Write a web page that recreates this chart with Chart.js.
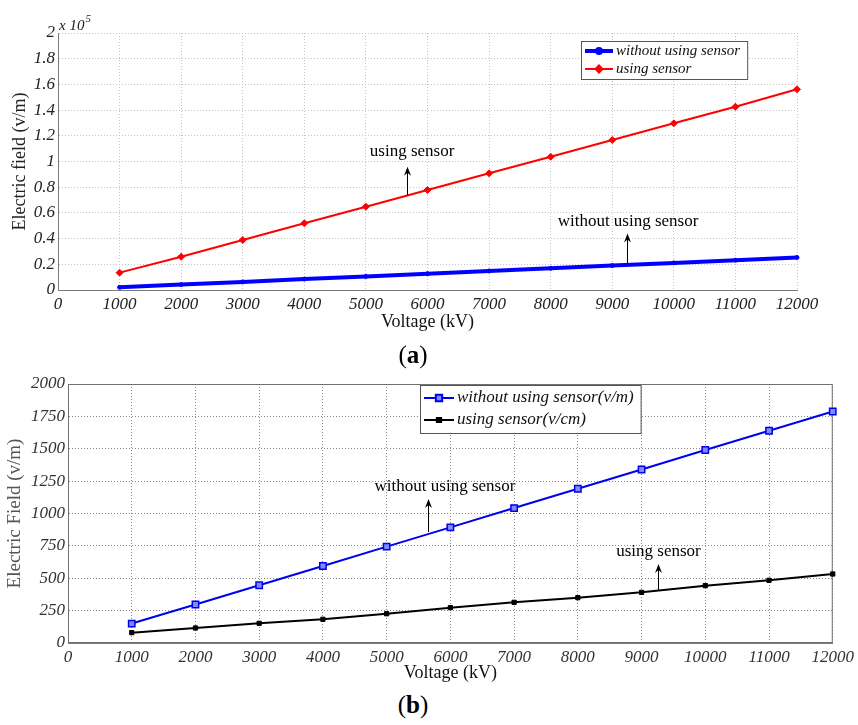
<!DOCTYPE html>
<html>
<head>
<meta charset="utf-8">
<script src="https://cdn.jsdelivr.net/npm/chart.js@4/dist/chart.umd.min.js"></script>
<style>
  html, body { margin: 0; padding: 0; background: #fff; }
  body { width: 858px; height: 725px; position: relative; overflow: hidden; }
  .caja { position: absolute; left: 0; width: 858px; }
  .pie { position: absolute; left: 0; width: 826px; text-align: center;
         font-family: "Liberation Serif", serif; font-size: 25px; line-height: 30px; color: #000; }
</style>
</head>
<body>
<div class="caja" style="top:0;height:340px"><canvas id="grafico-a"></canvas></div>
<div class="caja" style="top:340px;height:350px"><canvas id="grafico-b"></canvas></div>
<div class="pie" style="top:340px">(<b>a</b>)</div>
<div class="pie" style="top:690px">(<b>b</b>)</div>
<script>
// tensiones (kV), comunes a las dos figuras
const voltaje = [1000, 2000, 3000, 4000, 5000, 6000, 7000, 8000, 9000, 10000, 11000, 12000];

// figura (a): campo electrico en v/m (eje en x 10^5)
const sinSensorA = [2100, 4200, 6300, 8500, 10600, 12700, 14800, 16900, 19000, 21100, 23200, 25300];
const conSensorA = [13500, 25900, 38900, 51900, 64800, 77800, 90800, 103700, 116700, 129700, 142600, 156200];

// figura (b)
const sinSensorB = [150, 297, 446, 595, 744, 893, 1042, 1191, 1340, 1490, 1639, 1788];   // v/m
const conSensorB = [80, 116, 152, 183, 226, 273, 314, 350, 391, 443, 484, 533];          // v/cm

const SERIF = '"Liberation Serif", "Times New Roman", serif';
Chart.defaults.font.family = SERIF;
Chart.defaults.color = '#222';

const puntos = (xs, ys) => xs.map((x, i) => ({ x: x, y: ys[i] }));

// leyenda dentro del area, flechas con texto, marco y exponente
const extras = {
    id: 'extras',
    beforeDatasetsDraw(chart, args, opts) {
        if (!opts.marco) return;
        const a = chart.chartArea, ctx = chart.ctx;
        ctx.save();
        ctx.strokeStyle = '#707070';
        ctx.lineWidth = 1;
        ctx.strokeRect(a.left + 0.5, a.top + 0.5, a.right - a.left - 1, a.bottom - a.top - 1);
        ctx.restore();
    },
    afterDatasetsDraw(chart, args, opts) {
        const ctx = chart.ctx, a = chart.chartArea;
        const sx = chart.scales.x, sy = chart.scales.y;
        ctx.save();

        // flechas
        (opts.notas || []).forEach(n => {
            const px = Math.round(sx.getPixelForValue(n.x)) + 0.5;
            const y0 = sy.getPixelForValue(n.desde), y1 = sy.getPixelForValue(n.hasta);
            ctx.strokeStyle = '#000';
            ctx.fillStyle = '#000';
            ctx.lineWidth = 1;
            ctx.beginPath();
            ctx.moveTo(px, y0);
            ctx.lineTo(px, y1 + 4);
            ctx.stroke();
            ctx.beginPath();
            ctx.moveTo(px, y1);
            ctx.lineTo(px - 3.5, y1 + 9);
            ctx.lineTo(px, y1 + 6);
            ctx.lineTo(px + 3.5, y1 + 9);
            ctx.closePath();
            ctx.fill();
            ctx.font = opts.fuenteNota;
            ctx.textAlign = 'center';
            ctx.textBaseline = 'middle';
            ctx.fillText(n.texto, sx.getPixelForValue(n.tx), sy.getPixelForValue(n.ty));
        });

        // exponente del eje y
        if (opts.exponente) {
            ctx.fillStyle = '#222';
            ctx.textAlign = 'left';
            ctx.textBaseline = 'alphabetic';
            ctx.font = 'italic 15px ' + SERIF;
            ctx.fillText('x 10', a.left + 1, a.top - 3);
            const w = ctx.measureText('x 10').width;
            ctx.font = 'italic 11px ' + SERIF;
            ctx.fillText(opts.exponente, a.left + 2 + w, a.top - 11);
        }

        // leyenda
        const L = opts.leyenda;
        if (L) {
            ctx.font = L.fuente;
            const sets = chart.data.datasets;
            const anchoTexto = Math.max(...sets.map(d => ctx.measureText(d.label).width));
            const x0 = a.left + L.dx, y0 = a.top + L.dy;
            const w = L.inicioTexto + anchoTexto + 7;
            const h = L.fila * sets.length + 2 * L.margen;
            ctx.fillStyle = '#fff';
            ctx.fillRect(x0, y0, w, h);
            ctx.strokeStyle = '#555';
            ctx.lineWidth = 1;
            ctx.strokeRect(x0 + 0.5, y0 + 0.5, w, h);
            sets.forEach((d, i) => {
                const yc = y0 + L.margen + L.fila * (i + 0.5);
                ctx.strokeStyle = d.borderColor;
                ctx.lineWidth = d.borderWidth;
                ctx.beginPath();
                ctx.moveTo(x0 + 4, yc);
                ctx.lineTo(x0 + L.inicioTexto - 3, yc);
                ctx.stroke();
                ctx.fillStyle = d.pointBackgroundColor;
                ctx.strokeStyle = d.borderColor;
                Chart.helpers.drawPoint(ctx, {
                    pointStyle: d.pointStyle, radius: d.pointRadius, rotation: 0,
                    borderWidth: d.pointBorderWidth
                }, x0 + (L.inicioTexto + 1) / 2, yc);
                ctx.fillStyle = '#111';
                ctx.textAlign = 'left';
                ctx.textBaseline = 'middle';
                ctx.fillText(d.label, x0 + L.inicioTexto, yc);
            });
        }
        ctx.restore();
    }
};

function ejes(cfg) {
    return {
        x: {
            type: 'linear', min: 0, max: 12000,
            afterFit: s => { s.height = cfg.altoX; },
            ticks: { stepSize: 1000, autoSkip: false, maxRotation: 0, padding: 4,
                     color: cfg.colorTicks, font: { size: 17, style: 'italic' },
                     callback: v => String(v) },
            grid: { color: cfg.rejilla, drawTicks: false },
            border: { display: true, color: '#7a7a7a', dash: [1, 2] },
            title: { display: true, text: 'Voltage (kV)', color: '#111',
                     font: { size: 18 }, padding: { top: 0, bottom: cfg.tituloX } }
        },
        y: {
            type: 'linear', min: 0, max: cfg.maxY,
            afterFit: s => { s.width = cfg.anchoY; },
            ticks: { stepSize: cfg.pasoY, padding: 3, color: cfg.colorTicks,
                     font: { size: 17, style: 'italic' }, callback: cfg.etiquetaY },
            grid: { color: cfg.rejilla, drawTicks: false },
            border: { display: true, color: '#7a7a7a', dash: [1, 2] },
            title: { display: true, text: cfg.tituloY, color: cfg.colorTituloY,
                     font: { size: cfg.tamTituloY }, padding: { top: cfg.tituloYpad, bottom: 0 } }
        }
    };
}

// Figura (a)
new Chart(document.getElementById('grafico-a'), {
    type: 'line',
    data: {
        datasets: [{
            label: 'without using sensor',
            data: puntos(voltaje, sinSensorA),
            borderColor: '#0000ff', backgroundColor: '#0000ff',
            pointBackgroundColor: '#0000ff', borderWidth: 4,
            pointStyle: 'circle', pointRadius: 2, pointBorderWidth: 1,
            clip: false
        }, {
            label: 'using sensor',
            data: puntos(voltaje, conSensorA),
            borderColor: '#ff0000', backgroundColor: '#ff0000',
            pointBackgroundColor: '#ff0000', borderWidth: 2,
            pointStyle: 'rectRot', pointRadius: 3.5, pointBorderWidth: 1,
            clip: false
        }]
    },
    plugins: [extras],
    options: {
        responsive: true, maintainAspectRatio: false, animation: false,
        layout: { padding: { left: 0, right: 61, top: 33, bottom: 0 } },
        scales: ejes({
            altoX: 50, tituloX: 7, anchoY: 58, maxY: 200000, pasoY: 20000,
            rejilla: '#c4c4c4', colorTicks: '#222',
            tituloY: 'Electric field (v/m)', colorTituloY: '#222', tamTituloY: 18, tituloYpad: 9,
            etiquetaY: v => String(Math.round(v / 1e4) / 10)
        }),
        plugins: {
            legend: { display: false },
            tooltip: { enabled: false },
            extras: {
                exponente: '5',
                fuenteNota: '17px ' + SERIF,
                leyenda: { dx: 523, dy: 8, fuente: 'italic 15px ' + SERIF, fila: 18, margen: 1, inicioTexto: 35 },
                notas: [
                    { texto: 'using sensor', x: 5667, desde: 73700, hasta: 96000, tx: 5750, ty: 107500 },
                    { texto: 'without using sensor', x: 9240, desde: 21000, hasta: 44000, tx: 9256, ty: 52900 }
                ]
            }
        }
    }
});

// Figura (b)
new Chart(document.getElementById('grafico-b'), {
    type: 'line',
    data: {
        datasets: [{
            label: 'without using sensor(v/m)',
            data: puntos(voltaje, sinSensorB),
            borderColor: '#0000ee', backgroundColor: '#0000ee',
            pointBackgroundColor: '#7f8cff', borderWidth: 2,
            pointStyle: 'rect', pointRadius: 4.5, pointBorderWidth: 1.5,
            clip: false
        }, {
            label: 'using sensor(v/cm)',
            data: puntos(voltaje, conSensorB),
            borderColor: '#000000', backgroundColor: '#000000',
            pointBackgroundColor: '#000000', borderWidth: 2,
            pointStyle: 'rect', pointRadius: 3, pointBorderWidth: 1,
            clip: false
        }]
    },
    plugins: [extras],
    options: {
        responsive: true, maintainAspectRatio: false, animation: false,
        layout: { padding: { left: 0, right: 23, top: 44, bottom: 0 } },
        scales: ejes({
            altoX: 47, tituloX: 6, anchoY: 68, maxY: 2000, pasoY: 250,
            rejilla: '#8a8a8a', colorTicks: '#333',
            tituloY: 'Electric Field (v/m)', colorTituloY: '#555', tamTituloY: 19, tituloYpad: 4,
            etiquetaY: v => String(v)
        }),
        plugins: {
            legend: { display: false },
            tooltip: { enabled: false },
            extras: {
                marco: true,
                fuenteNota: '17px ' + SERIF,
                leyenda: { dx: 352, dy: 1, fuente: 'italic 17px ' + SERIF, fila: 22, margen: 2, inicioTexto: 37 },
                notas: [
                    { texto: 'without using sensor', x: 5650, desde: 857, hasta: 1112, tx: 5915, ty: 1212 },
                    { texto: 'using sensor', x: 9265, desde: 409, hasta: 610, tx: 9265, ty: 703 }
                ]
            }
        }
    }
});
</script>
</body>
</html>
